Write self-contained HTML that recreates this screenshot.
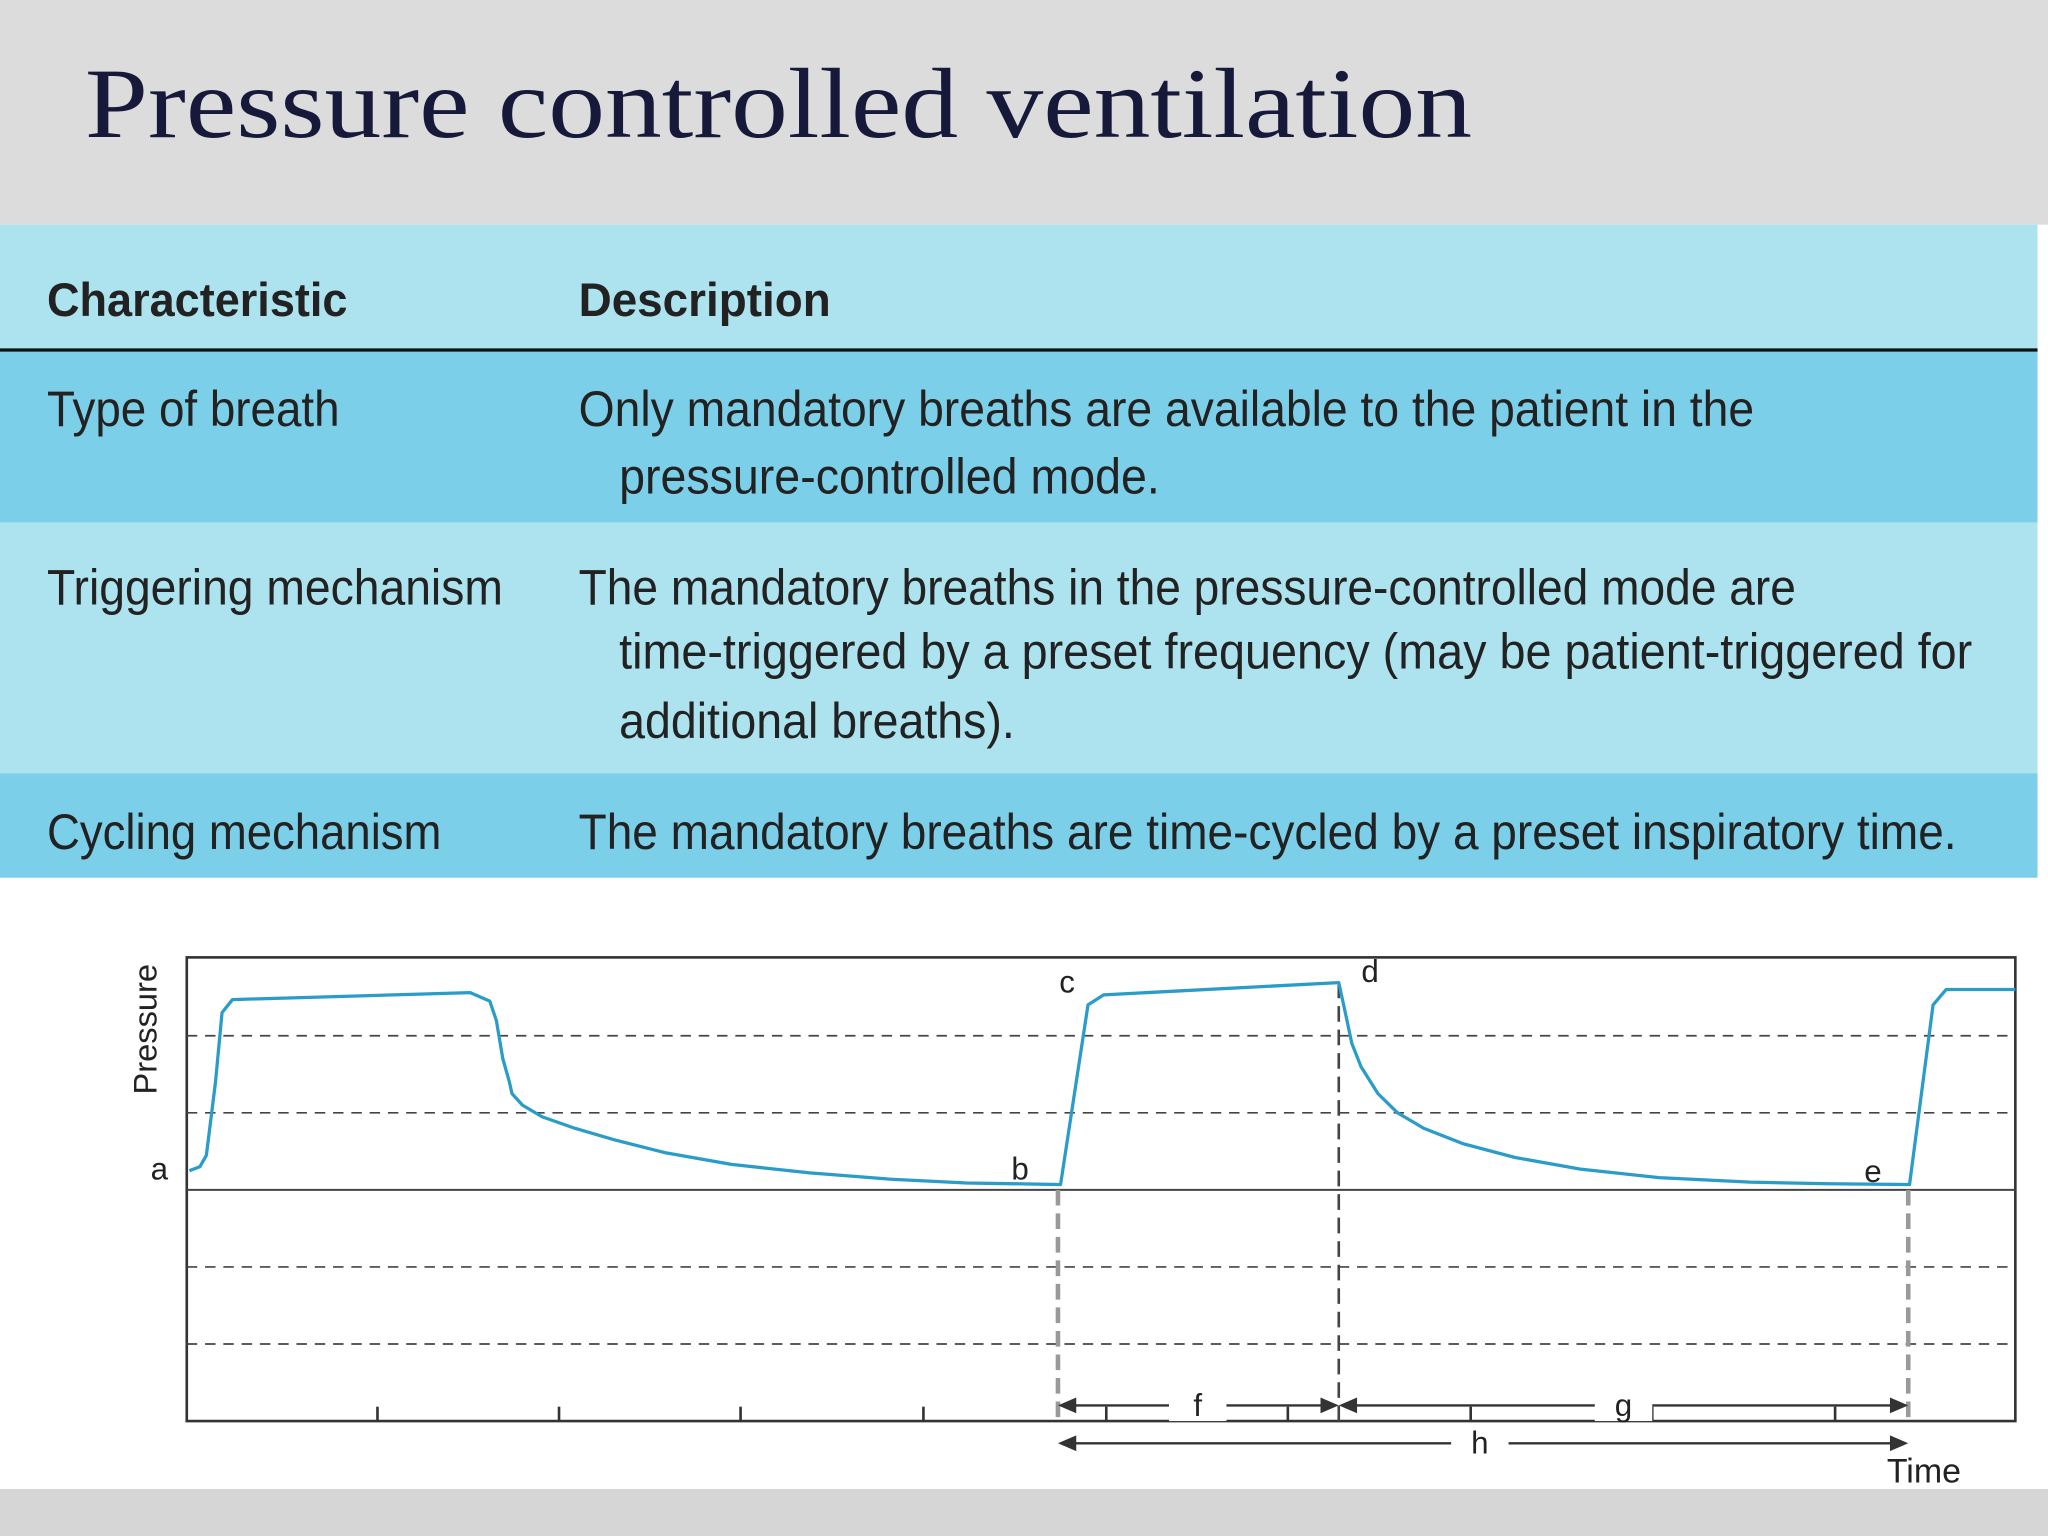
<!DOCTYPE html>
<html><head><meta charset="utf-8"><style>
html,body{margin:0;padding:0;width:2048px;height:1536px;overflow:hidden;background:#fff}
svg{display:block}
</style></head><body>
<svg width="2048" height="1536" viewBox="0 0 1568 1176" xmlns="http://www.w3.org/2000/svg">
<rect x="0" y="0" width="1568" height="172" fill="#dcdcdc"/>
<rect x="0" y="1140" width="1568" height="36" fill="#d6d6d6"/>
<text x="65" y="105" font-family="Liberation Serif, serif" font-size="76" fill="#16193a" textLength="1062" lengthAdjust="spacingAndGlyphs">Pressure controlled ventilation</text>
<g font-family="Liberation Sans, sans-serif" fill="#222">
<rect x="0" y="172" width="1560" height="96" fill="#ade3ef"/>
<rect x="0" y="268" width="1560" height="132" fill="#7ccfe9"/>
<rect x="0" y="400" width="1560" height="192" fill="#ade3ef"/>
<rect x="0" y="592" width="1560" height="80" fill="#7ccfe9"/>
<line x1="0" y1="268" x2="1560" y2="268" stroke="#111" stroke-width="2.5"/>
<text x="36" y="242" font-size="36" font-weight="bold" textLength="230" lengthAdjust="spacingAndGlyphs">Characteristic</text>
<text x="443" y="242" font-size="36" font-weight="bold" textLength="193" lengthAdjust="spacingAndGlyphs">Description</text>
<g font-size="38" lengthAdjust="spacingAndGlyphs">
<text x="36" y="326" textLength="224" lengthAdjust="spacingAndGlyphs">Type of breath</text>
<text x="443" y="326" textLength="900" lengthAdjust="spacingAndGlyphs">Only mandatory breaths are available to the patient in the</text>
<text x="474" y="378" textLength="414" lengthAdjust="spacingAndGlyphs">pressure-controlled mode.</text>
<text x="36" y="463" textLength="349" lengthAdjust="spacingAndGlyphs">Triggering mechanism</text>
<text x="443" y="463" textLength="932" lengthAdjust="spacingAndGlyphs">The mandatory breaths in the pressure-controlled mode are</text>
<text x="474" y="512" textLength="1036" lengthAdjust="spacingAndGlyphs">time-triggered by a preset frequency (may be patient-triggered for</text>
<text x="474" y="565" textLength="303" lengthAdjust="spacingAndGlyphs">additional breaths).</text>
<text x="36" y="650" textLength="302" lengthAdjust="spacingAndGlyphs">Cycling mechanism</text>
<text x="443" y="650" textLength="1055" lengthAdjust="spacingAndGlyphs">The mandatory breaths are time-cycled by a preset inspiratory time.</text>
</g>
</g>
<g id="chart"></g>
</svg>
<script>
const times=[2,10,15,22,27,35,217,232,237,242,247,249,257,272,297,327,367,417,477,537,597,667,669,690,702,882,887,892,899,912,927,947,977,1017,1067,1127,1197,1257,1317,1319,1337,1347,1400];
const pressures=[0.25,0.3,0.45,1.4,2.3,2.47,2.56,2.45,2.2,1.7,1.4,1.25,1.1,0.95,0.8,0.65,0.48,0.33,0.22,0.14,0.09,0.07,0.07,2.4,2.53,2.69,2.3,1.9,1.6,1.25,1.0,0.8,0.6,0.42,0.27,0.16,0.1,0.08,0.07,0.07,2.4,2.6,2.6];
const gridLevels=[2,1,-1,-2];
const tickTimes=[146,285,424,564,704,843,983,1122,1262];
const markers=[{t:667,label:'b'},{t:882,label:'d'},{t:1318,label:'e'}];
const NS='http://www.w3.org/2000/svg';
const X0=143,X1=1543,Y0=911,PU=59;
const xs=t=>X0+t; const ys=p=>Y0-p*PU;
const g=document.getElementById('chart');
function mk(tag,attrs,txt){const e=document.createElementNS(NS,tag);for(const k in attrs)e.setAttribute(k,attrs[k]);if(txt!==undefined)e.textContent=txt;g.appendChild(e);return e;}
let e;
e=mk('rect',{x:X0,y:733,width:X1-X0,height:355,fill:'#fff',stroke:'#333','stroke-width':2});


gridLevels.forEach(l=>{e=mk('line',{x1:X0,x2:X1,y1:ys(l),y2:ys(l),stroke:'#444','stroke-width':1.3,'stroke-dasharray':'8 6'});

});
e=mk('line',{x1:X0,x2:X1,y1:Y0,y2:Y0,stroke:'#444','stroke-width':1.5});


tickTimes.forEach(t=>{e=mk('line',{x1:xs(t),x2:xs(t),y1:1088,y2:1077,stroke:'#333','stroke-width':2});

});
markers.forEach((m,i)=>{const top=m.label==='d'?ys(2.69):Y0;
e=mk('line',{x1:xs(m.t),x2:xs(m.t),y1:top,y2:1088,stroke:m.label==='d'?'#444':'#999','stroke-width':m.label==='d'?2:3.5,'stroke-dasharray':'12 6'});

});
let d='';times.forEach((t,i)=>{d+=(i?'L':'M')+xs(t).toFixed(1)+','+ys(pressures[i]).toFixed(1);});
e=mk('path',{d:d,fill:'none',stroke:'#2a9cc8','stroke-width':2.5,'stroke-linejoin':'round'});


function arrow(x1,x2,y,name){e=mk('line',{x1:x1+6,x2:x2-6,y1:y,y2:y,stroke:'#333','stroke-width':1.8});


mk('path',{d:`M${x1},${y}l14,-6v12z`,fill:'#333'});mk('path',{d:`M${x2},${y}l-14,-6v12z`,fill:'#333'});}
arrow(xs(667),xs(882),1076,'arrow-f');arrow(xs(882),xs(1318),1076,'arrow-g');arrow(xs(667),xs(1318),1105,'arrow-h');
const labels=[['f',917,1084],['g',1243,1084],['h',1133,1113],['a',122,903],['b',781,903],['c',817,760],['d',1049,752],['e',1434,905]];
labels.forEach(l=>{if('fgh'.includes(l[0]))mk('rect',{x:l[1]-22,y:l[2]-22,width:44,height:26,fill:'#fff'});
e=mk('text',{x:l[1],y:l[2],'text-anchor':'middle','font-family':'Liberation Sans, sans-serif','font-size':24,fill:'#222'},l[0]);

});
e=mk('text',{x:1473,y:1135,'text-anchor':'middle','font-family':'Liberation Sans, sans-serif','font-size':26,fill:'#222'},'Time');


e=mk('text',{x:0,y:0,transform:'translate(120,788) rotate(-90)','text-anchor':'middle','font-family':'Liberation Sans, sans-serif','font-size':25,fill:'#222'},'Pressure');


</script>
</body></html>
